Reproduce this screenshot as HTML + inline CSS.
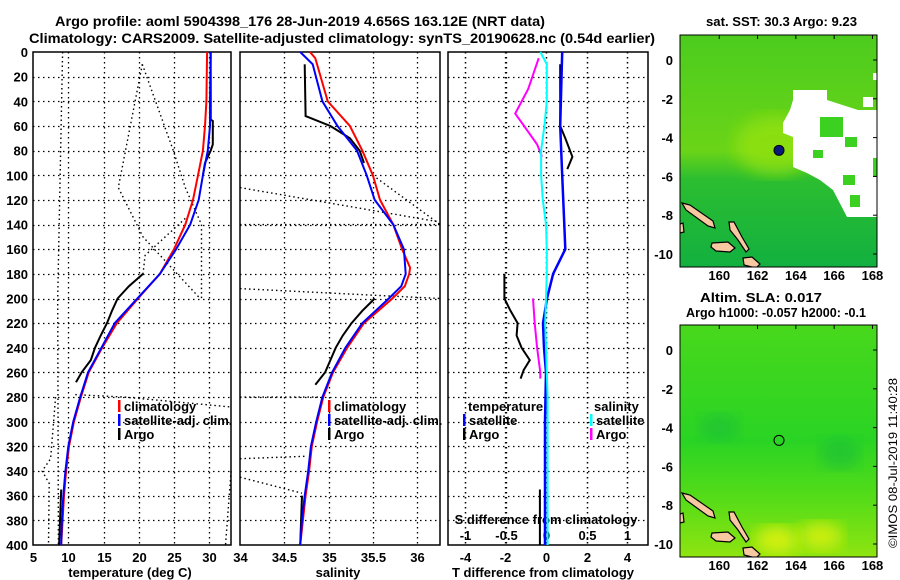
<!DOCTYPE html>
<html><head><meta charset="utf-8"><title>Argo profile</title>
<style>
html,body{margin:0;padding:0;background:#fff;}
svg{display:block;font-family:"Liberation Sans",sans-serif;font-weight:bold;}
</style></head>
<body>
<svg id="chart" width="900" height="580" viewBox="0 0 900 580" xmlns="http://www.w3.org/2000/svg">
<text x="55" y="26" font-size="14" textLength="490" lengthAdjust="spacingAndGlyphs">Argo profile: aoml 5904398_176 28-Jun-2019 4.656S 163.12E (NRT data)</text>
<text x="29" y="43" font-size="14" textLength="626" lengthAdjust="spacingAndGlyphs">Climatology: CARS2009. Satellite-adjusted climatology: synTS_20190628.nc (0.54d earlier)</text>
<text x="706" y="26" font-size="13" textLength="151" lengthAdjust="spacingAndGlyphs">sat. SST: 30.3 Argo: 9.23</text>
<text x="700" y="302" font-size="13" textLength="122" lengthAdjust="spacingAndGlyphs">Altim. SLA: 0.017</text>
<text x="686" y="317" font-size="13" textLength="180" lengthAdjust="spacingAndGlyphs">Argo h1000: -0.057 h2000: -0.1</text>
<text transform="translate(897,548) rotate(-90)" font-size="12" font-weight="normal" textLength="170" lengthAdjust="spacingAndGlyphs">©IMOS 08-Jul-2019 11:40:28</text>
<g id="layer"></g>
</svg>
<script>
// ---------- data ----------
const depthTicks=[0,20,40,60,80,100,120,140,160,180,200,220,240,260,280,300,320,340,360,380,400];
const tempTicks=[5,10,15,20,25,30];
const salTicks=[34,34.5,35,35.5,36];
const diffTicks=[-4,-2,0,2,4];
const sdiffTicks=[-1,-0.5,0,0.5,1];
const sdiffTickLabels=["-1","-0.5","0","0.5","1"];
const latTicks=[0,-2,-4,-6,-8,-10];
const lonTicks=[160,162,164,166,168];

const climTDepth=[0,40,60,80,100,120,140,160,180,200,220,240,260,280,300,320,340,360,380,400];
const climTVal=[29.7,29.6,29.4,29.1,28.4,27.7,26.6,25.0,23.0,19.9,16.9,14.8,12.9,11.8,10.8,10.1,9.7,9.4,9.2,9.0];
const satTDepth=[0,40,60,80,100,120,140,160,180,200,220,240,260,280,300,320,340,360,380,400];
const satTVal=[30.2,30.1,30.1,29.8,29.1,28.5,27.3,25.3,23.0,19.8,16.6,14.7,12.8,11.7,10.7,10.0,9.6,9.3,9.1,9.0];
const argoTDepth=[0,55,56,75,80,90,100];
const argoTVal=[30.2,30.2,30.5,30.5,30.2,29.4,29.1];
const argoTDepth2=[180,190,200,210,220,230,240,250,260,268];
const argoTVal2=[20.6,18.6,17.0,16.2,15.5,14.6,13.8,13.2,11.9,11.1];
const argoTDepth3=[355,370,385,400];
const argoTVal3=[9.0,8.9,8.8,8.7];

const climSDepth=[0,5,40,60,80,100,120,140,160,175,180,190,200,220,240,260,280,300,320,340,360,380,400];
const climSVal=[34.79,34.85,34.99,35.24,35.38,35.5,35.58,35.73,35.83,35.92,35.91,35.86,35.72,35.40,35.21,35.05,34.94,34.87,34.81,34.78,34.74,34.71,34.68];
const satSDepth=[0,10,40,60,80,100,120,140,160,180,190,200,220,240,260,280,300,320,340,360,380,400];
const satSVal=[34.68,34.82,34.93,35.1,35.32,35.43,35.52,35.73,35.85,35.87,35.82,35.68,35.38,35.19,35.04,34.93,34.86,34.8,34.77,34.73,34.7,34.68];
const argoSDepth=[10,52,60,70,80,90];
const argoSVal=[34.73,34.74,35.02,35.24,35.35,35.4];
const argoSDepth2=[200,210,220,230,240,250,260,270];
const argoSVal2=[35.52,35.38,35.26,35.16,35.08,35.02,34.96,34.85];
const argoSDepth3=[360,380,400];
const argoSVal3=[34.7,34.69,34.68];

const satTdDepth=[0,60,100,140,160,180,200,220,240,260,300,350,400];
const satTdVal=[0.8,0.7,0.8,0.9,0.95,0.35,0.05,-0.15,-0.1,0,-0.05,-0.05,-0.05];
const satSdDepth=[0,10,40,60,80,100,120,140,160,180,200,220,240,260,280,300,400];
const satSdVal=[-0.07,0.01,0.01,-0.02,-0.06,-0.06,-0.04,0,0.01,0.01,0,-0.01,0,0.01,0.02,0.02,0.02];
const argoTdDepth=[10,60,70,85,95];
const argoTdVal=[0.7,0.7,0.95,1.3,1.05];
const argoTdDepth2=[180,200,210,220,230,240,250,258,265];
const argoTdVal2=[-2.05,-2.05,-1.75,-1.4,-1.45,-1.2,-0.8,-1.1,-1.25];
const argoTdDepth3=[355,400];
const argoTdVal3=[-0.3,-0.3];
const argoSdDepth=[5,30,50,60,75,85];
const argoSdVal=[-0.09,-0.22,-0.38,-0.27,-0.11,-0.05];
const argoSdDepth2=[200,220,240,260,265];
const argoSdVal2=[-0.16,-0.14,-0.11,-0.07,-0.07];

// dotted auxiliary lines: [depth, value] pairs
const tempDotted=[
 [[0,9.2],[200,8.5],[400,8.6]],
 [[280,8.2],[330,7.5],[340,6.3],[350,7.3],[400,7.2]],
 [[340,33.1],[400,32.3]],
 [[10,20.5],[110,17.1],[150,20.6],[200,28.7]],
 [[10,20.5],[80,24.9],[110,26.6],[140,28.9],[200,28.9]],
 [[135,26.6],[165,20.9],[180,20.6]],
 [[278,11],[280,18],[288,33.1]]
];
const salDotted=[
 [[110,34],[138,36.26]],
 [[100,35.5],[140,36.26]],
 [[140,34],[140,36.26]],
 [[192,34],[200,36.26]],
 [[280,34],[280,34.9]],
 [[330,34],[328,34.73]],
 [[345,34],[358,34.7]]
];
const argoLon=[163.12];
const argoLat=[-4.656];

// ---------- scales ----------
const yD=d=>52+d*493/400;
const xT=t=>33+(t-5)*7.05;
const xS=s=>240+(s-34)*88.6;
const xD=t=>546+t*20.3;
const xDS=s=>546+s*81;
const mapX=lon=>680+(lon-157.95)*19.15;
const mapY1=lat=>60-lat*19.4;
const mapY2=lat=>350-lat*19.4;

const NS='http://www.w3.org/2000/svg';
const layer=document.getElementById('layer');
function mk(tag,attrs,parent){const e=document.createElementNS(NS,tag);for(const k in attrs)e.setAttribute(k,attrs[k]);(parent||layer).appendChild(e);return e;}

function line(depths,vals,xf,color,w,name,dash){
  const pts=depths.map((d,i)=>xf(vals[i]).toFixed(1)+','+yD(d).toFixed(1)).join(' ');
  const a={points:pts,fill:'none',stroke:color,'stroke-width':w};
  if(dash)a['stroke-dasharray']=dash;
  const e=mk('polyline',a);
  
  
}

// ---------- panels ----------
const panels=[{x0:33,x1:231,name:'temperature'},{x0:240,x1:440,name:'salinity'},{x0:448,x1:648,name:'difference'}];
panels.forEach(p=>{
  const r=mk('rect',{x:p.x0,y:52,width:p.x1-p.x0,height:493,fill:'#fff',stroke:'#000','stroke-width':1.5});
  
  
  depthTicks.forEach(d=>{
    if(d===0||d===400)return;
    const g=mk('line',{x1:p.x0,x2:p.x1,y1:Math.round(yD(d))+0.5,y2:Math.round(yD(d))+0.5,stroke:'#000','stroke-width':1.3,'stroke-dasharray':'1.5 3.5'});
    
    
  });
});
depthTicks.forEach(d=>{
  const t=mk('text',{x:28,y:yD(d)+5,'font-size':13,'text-anchor':'end'});
  t.textContent=d;
  
  
});
function vgrid(ticks,xf,x0,x1,name,labels,ly){
  ticks.forEach((v,i)=>{
    const x=Math.round(xf(v))+0.5;
    if(x>x0+2&&x<x1-2){
      const g=mk('line',{x1:x,x2:x,y1:52,y2:545,stroke:'#000','stroke-width':1.3,'stroke-dasharray':'1.5 3.5'});
      
      
    }
    const t=mk('text',{x:x,y:ly,'font-size':13,'text-anchor':'middle'});
    t.textContent=labels?labels[i]:v;
    
    
  });
}
vgrid(tempTicks,xT,33,231,'temperature',null,562);
vgrid(salTicks,xS,240,440,'salinity',null,562);
vgrid(diffTicks,xD,448,648,'t-difference',null,562);
vgrid(sdiffTicks,xDS,448,648,'s-difference',sdiffTickLabels,540);

[['temperature (deg C)',130,'temperature-axis-title'],['salinity',338,'salinity-axis-title'],['T difference from climatology',543,'t-difference-axis-title'],['S difference from climatology',546,'s-difference-axis-title']].forEach((a,i)=>{
  const t=mk('text',{x:a[1],y:i===3?524:577,'font-size':13,'text-anchor':'middle'});
  t.textContent=a[0];
  
  
});

// dotted lines
tempDotted.forEach(seg=>line(seg.map(p=>p[0]),seg.map(p=>p[1]),xT,'#000',1.4,'temperature-dotted-line','1.5 3'));
salDotted.forEach(seg=>line(seg.map(p=>p[0]),seg.map(p=>p[1]),xS,'#000',1.4,'salinity-dotted-line','1.5 3'));

// temperature panel
line(argoTDepth,argoTVal,xT,'#000',2,'argo-temperature-line');
line(argoTDepth2,argoTVal2,xT,'#000',2,'argo-temperature-line');
line(argoTDepth3,argoTVal3,xT,'#000',2,'argo-temperature-line');
line(climTDepth,climTVal,xT,'#f00',2,'climatology-temperature-line');
line(satTDepth,satTVal,xT,'#00f',2,'satellite-temperature-line');
// salinity panel
line(argoSDepth,argoSVal,xS,'#000',2,'argo-salinity-line');
line(argoSDepth2,argoSVal2,xS,'#000',2,'argo-salinity-line');
line(argoSDepth3,argoSVal3,xS,'#000',2,'argo-salinity-line');
line(climSDepth,climSVal,xS,'#f00',2,'climatology-salinity-line');
line(satSDepth,satSVal,xS,'#00f',2,'satellite-salinity-line');
// difference panel
line(argoTdDepth,argoTdVal,xD,'#000',2,'argo-t-difference-line');
line(argoTdDepth2,argoTdVal2,xD,'#000',2,'argo-t-difference-line');
line(argoTdDepth3,argoTdVal3,xD,'#000',2,'argo-t-difference-line');
line(argoSdDepth,argoSdVal,xDS,'#f0f',2,'argo-s-difference-line');
line(argoSdDepth2,argoSdVal2,xDS,'#f0f',2,'argo-s-difference-line');
line(satTdDepth,satTdVal,xD,'#00f',2.5,'satellite-t-difference-line');
line(satSdDepth,satSdVal,xDS,'#0ff',2,'satellite-s-difference-line');

// legends
function legend(x,y,color,label,name){
  if(color){
    const m=mk('rect',{x:x,y:y-11,width:2.5,height:12,fill:color});
    
    
  }
  const t=mk('text',{x:x+6,y:y,'font-size':13});
  t.textContent=label;
  
  
}
[[118,'temperature'],[328,'salinity']].forEach(l=>{
  legend(l[0],411,'#f00','climatology','legend-climatology');
  legend(l[0],425,'#00f','satellite-adj. clim.','legend-satellite-adj');
  legend(l[0],439,'#000','Argo','legend-argo');
});
legend(462,411,null,'temperature','legend-temperature-heading');
legend(463,425,'#00f','satellite','legend-t-satellite');
legend(463,439,'#000','Argo','legend-t-argo');
legend(588,411,null,'salinity','legend-salinity-heading');
legend(590,425,'#0ff','satellite','legend-s-satellite');
legend(590,439,'#f0f','Argo','legend-s-argo');

// ---------- maps ----------
const defs=mk('defs',{});
defs.innerHTML='<linearGradient id="g1" x1="0" y1="0" x2="0" y2="1"><stop offset="0" stop-color="#4ccc1e"/><stop offset="0.5" stop-color="#6ad418"/><stop offset="0.62" stop-color="#2cbe30"/><stop offset="1" stop-color="#12b040"/></linearGradient>'+
'<linearGradient id="g2" x1="0" y1="0" x2="0" y2="1"><stop offset="0" stop-color="#48d81c"/><stop offset="0.5" stop-color="#2ad424"/><stop offset="0.75" stop-color="#56dc18"/><stop offset="1" stop-color="#8ee410"/></linearGradient>'+
'<filter id="bl"><feGaussianBlur stdDeviation="8"/></filter>'+
'<clipPath id="c1"><rect x="680" y="35" width="197" height="232"/></clipPath><clipPath id="c2"><rect x="680" y="325" width="197" height="232"/></clipPath>';

function map(y0,yf,grad,clip,name,sst){
  const g=mk('g',{'clip-path':'url(#'+clip+')'});
  
  
  mk('rect',{x:680,y:y0,width:197,height:232,fill:'url(#'+grad+')'},g);
  if(sst){
    mk('ellipse',{cx:775,cy:y0+110,rx:40,ry:30,fill:'#9ae410',opacity:0.7,filter:'url(#bl)'},g);
    mk('polygon',{points:'793,90 827,90 827,100 858,110 877,110 877,217 847,217 833,190 820,180 807,173 793,167 793,137 783,133 783,123 790,110 793,100',fill:'#fff'},g);
    [[820,117,23,20],[845,137,12,10],[843,175,12,10],[873,158,4,19],[813,150,10,8],[850,195,10,12]].forEach(r=>mk('rect',{x:r[0],y:r[1],width:r[2],height:r[3],fill:'#3cd020'},g));
    mk('rect',{x:863,y:97,width:10,height:10,fill:'#fff'},g);
    mk('rect',{x:873,y:73,width:4,height:7,fill:'#fff'},g);
  } else {
    mk('ellipse',{cx:mapX(163),cy:mapY2(-9.8),rx:22,ry:14,fill:'#d4f010',filter:'url(#bl)'},g);
    mk('ellipse',{cx:mapX(165.3),cy:mapY2(-9.6),rx:22,ry:14,fill:'#ccee10',filter:'url(#bl)'},g);
    mk('ellipse',{cx:mapX(160),cy:mapY2(-4),rx:20,ry:14,fill:'#1cc038',opacity:0.7,filter:'url(#bl)'},g);
    mk('ellipse',{cx:mapX(166.3),cy:mapY2(-5.3),rx:20,ry:16,fill:'#1cc038',opacity:0.7,filter:'url(#bl)'},g);
  }
  const dy=y0-35;
  const isl=[[ '682,203 690,205 713,221 715,228 708,226 686,210'],['712,243 728,242 735,248 730,252 716,251 711,247'],['729,222 734,222 742,237 749,249 746,252 738,240 730,230'],['743,258 752,257 760,264 756,268 744,265'],['680,224 683,223 684,232 680,233']];
  isl.forEach(s=>{
    const pts=s[0].split(' ').map(p=>{const q=p.split(',');return q[0]+','+(+q[1]+dy);}).join(' ');
    const e=mk('polygon',{points:pts,fill:'#f8c8a0',stroke:'#000','stroke-width':1.2},g);
    
    
  });
  const f=mk('rect',{x:680,y:y0,width:197,height:232,fill:'none',stroke:'#000','stroke-width':1});
  
  
  lonTicks.forEach(l=>{
    const t=mk('text',{x:mapX(l),y:y0+245,'font-size':13,'text-anchor':'middle'});
    t.textContent=l;
    
    
    mk('line',{x1:mapX(l),x2:mapX(l),y1:y0,y2:y0+4,stroke:'#000'});
  });
  latTicks.forEach(l=>{
    const yy=yf(l);
    const t=mk('text',{x:673,y:yy+5,'font-size':13,'text-anchor':'end'});
    t.textContent=l;
    
    
    mk('line',{x1:873,x2:877,y1:yy,y2:yy,stroke:'#000'});
  });
  argoLon.forEach((lo,i)=>{
    const c=mk('circle',{cx:mapX(lo),cy:yf(argoLat[i]),r:5,fill:sst?'#0a1a7a':'none',stroke:'#000','stroke-width':1});
    
    
  });
}
map(35,mapY1,'g1','c1','sst-map',true);
map(325,mapY2,'g2','c2','sla-map',false);
</script>
</body></html>
